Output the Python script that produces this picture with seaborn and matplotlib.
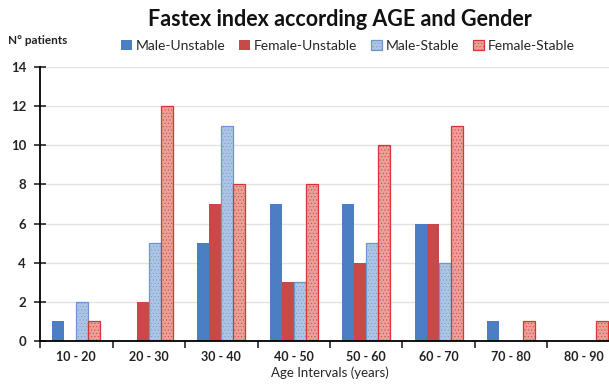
import matplotlib
matplotlib.use("Agg")
import matplotlib.pyplot as plt
from matplotlib.patches import Patch
import seaborn as sns
import pandas as pd

# Age groups and patient counts per group
age_groups = ["10 - 20", "20 - 30", "30 - 40", "40 - 50", "50 - 60", "60 - 70", "70 - 80", "80 - 90"]
male_unstable = [1, 0, 5, 7, 7, 6, 1, 0]
female_unstable = [0, 2, 7, 3, 4, 6, 0, 0]
male_stable = [2, 5, 11, 3, 5, 4, 0, 0]
female_stable = [1, 12, 8, 8, 10, 11, 1, 1]
series_names = ["Male-Unstable", "Female-Unstable", "Male-Stable", "Female-Stable"]

rows = []
for name, vals in zip(series_names, [male_unstable, female_unstable, male_stable, female_stable]):
    for g, v in zip(age_groups, vals):
        rows.append({"Age": g, "Group": name, "Count": v})
df = pd.DataFrame(rows)

sns.set_style("white")
plt.rcParams["font.family"] = ["Lato", "DejaVu Sans"]
plt.rcParams["hatch.linewidth"] = 0.3

faces = {"Male-Unstable": "#4a7fc4", "Female-Unstable": "#c9484a",
         "Male-Stable": "#aec4e4", "Female-Stable": "#e8a09a"}
edges = {"Male-Unstable": "#4a7fc4", "Female-Unstable": "#c9484a",
         "Male-Stable": "#6c96d2", "Female-Stable": "#d83434"}
hatches = {"Male-Unstable": None, "Female-Unstable": None,
           "Male-Stable": ".....", "Female-Stable": "....."}

fig = plt.figure(figsize=(6.09, 3.85), dpi=100)
ax = fig.add_axes([40 / 609, 44 / 385, 580 / 609, 274 / 385])

sns.barplot(data=df, x="Age", y="Count", hue="Group", hue_order=series_names,
            order=age_groups, palette=faces, width=0.66, gap=0, ax=ax,
            legend=False, saturation=1)

for container, name in zip(ax.containers, series_names):
    for bar in container:
        bar.set_facecolor(faces[name])
        bar.set_edgecolor(edges[name])
        bar.set_linewidth(0.9 if hatches[name] else 0)
        if hatches[name]:
            bar.set_hatch(hatches[name])

ax.set_ylim(0, 14)
ax.set_yticks(range(0, 15, 2))
ax.set_xlim(-0.5, len(age_groups) - 0.5)
ax.yaxis.grid(True, color="#e3e3e3", linewidth=1)
ax.set_axisbelow(True)
for side in ["top", "right"]:
    ax.spines[side].set_visible(False)
ax.spines["left"].set_color("black")
ax.spines["left"].set_linewidth(1.3)
ax.spines["bottom"].set_color("black")
ax.spines["bottom"].set_linewidth(1.3)

ax.tick_params(axis="y", direction="inout", length=8, width=1.2, labelsize=9.5, pad=6, left=True)
ax.set_xticks([i + 0.5 for i in range(-1, len(age_groups))], minor=True)
ax.set_xticks(range(len(age_groups)))
ax.set_xticklabels(age_groups, fontsize=9, fontweight="bold", color="#222222")
ax.tick_params(axis="x", which="major", length=0, pad=7)
ax.tick_params(axis="x", which="minor", direction="out", length=5, width=1.2, bottom=True)
for lab in ax.get_yticklabels():
    lab.set_fontweight("bold")
ax.set_xlabel("Age Intervals (years)", fontsize=9.5, labelpad=3)
ax.set_ylabel("")

fig.text(340 / 609, 1 - 20 / 385, "Fastex index according AGE and Gender",
         ha="center", va="center", fontsize=15.5, fontweight="bold", color="#111111")
fig.text(8 / 609, 1 - 40 / 385, "N° patients", ha="left", va="center",
         fontsize=8.5, fontweight="bold", color="#222222")

handles = [Patch(facecolor=faces[n], edgecolor=edges[n], hatch=hatches[n],
                 linewidth=0.9 if hatches[n] else 0) for n in series_names]
fig.legend(handles, series_names, loc="center", bbox_to_anchor=(348 / 609, 1 - 46 / 385),
           ncol=4, frameon=False, fontsize=10, handlelength=0.75, handleheight=0.75,
           handletextpad=0.3, columnspacing=1.0)

fig.savefig("out.png", dpi=100)
